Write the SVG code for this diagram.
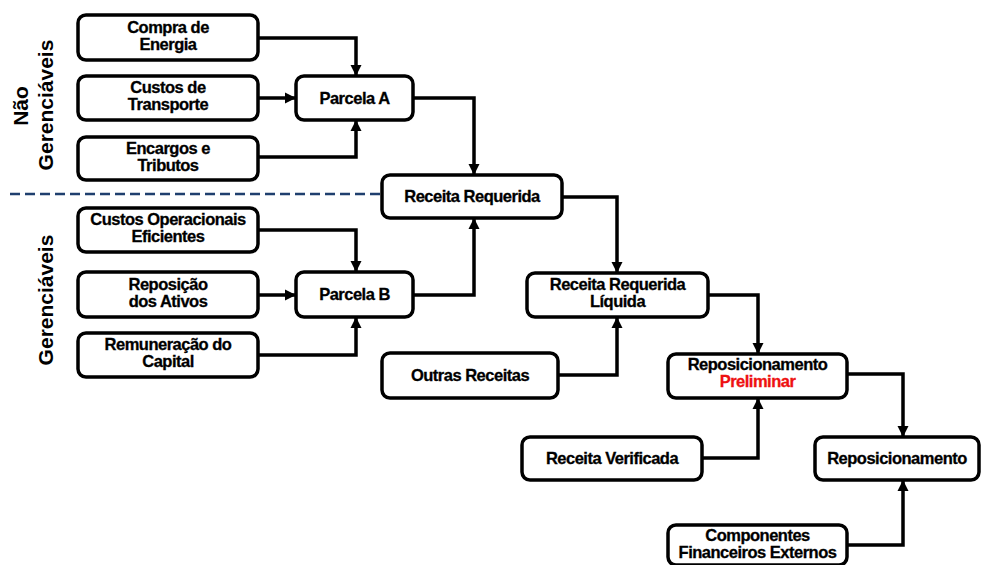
<svg xmlns="http://www.w3.org/2000/svg" width="982" height="565" viewBox="0 0 982 565">
<style>
.box{fill:#fff;stroke:#000;stroke-width:3.5}
.t{font-family:"Liberation Sans",Arial,sans-serif;font-weight:bold;font-size:16.5px;fill:#000;stroke:#000;stroke-width:0.3;text-anchor:middle;letter-spacing:-0.5px}
.side{font-family:"Liberation Sans",Arial,sans-serif;font-weight:bold;font-size:21px;fill:#000;text-anchor:middle}
.c{fill:none;stroke:#000;stroke-width:3.5}
.red{fill:#EE1111;stroke:#EE1111}
</style>
<defs>
<marker id="ah" viewBox="0 0 10 10" refX="10" refY="5" markerWidth="11" markerHeight="12" markerUnits="userSpaceOnUse" orient="auto">
<path d="M0,0 L10,5 L0,10 z" fill="#000"/>
</marker>
</defs>
<rect width="982" height="565" fill="#fff"/>
<g id="labels">
<text class="side" transform="translate(28,106) rotate(-90)">Não</text>
<text class="side" transform="translate(53,105) rotate(-90)">Gerenciáveis</text>
<text class="side" transform="translate(53,300) rotate(-90)">Gerenciáveis</text>
</g>
<line id="divider" x1="10" y1="194" x2="382" y2="194" stroke="#1F3F6E" stroke-width="2.5" stroke-dasharray="10,5"/>
<g id="connectors">
<path class="c" d="M258,38 H356 V76" marker-end="url(#ah)"/>
<path class="c" d="M258,98 H296" marker-end="url(#ah)"/>
<path class="c" d="M258,157 H356 V120" marker-end="url(#ah)"/>
<path class="c" d="M413,98 H474 V175" marker-end="url(#ah)"/>
<path class="c" d="M258,230 H356 V272" marker-end="url(#ah)"/>
<path class="c" d="M258,295 H296" marker-end="url(#ah)"/>
<path class="c" d="M258,355 H356 V317" marker-end="url(#ah)"/>
<path class="c" d="M413,295 H474 V218" marker-end="url(#ah)"/>
<path class="c" d="M562,197 H617 V273" marker-end="url(#ah)"/>
<path class="c" d="M558,375 H617 V317" marker-end="url(#ah)"/>
<path class="c" d="M708,295 H758 V354" marker-end="url(#ah)"/>
<path class="c" d="M702,458 H758 V398" marker-end="url(#ah)"/>
<path class="c" d="M847,374 H903 V437" marker-end="url(#ah)"/>
<path class="c" d="M847,545 H903 V480" marker-end="url(#ah)"/>
</g>
<g id="compra"><rect class="box" x="78" y="15" width="180" height="45" rx="8"/><text class="t" x="168" y="32.5">Compra de</text><text class="t" x="168" y="49.5">Energia</text></g>
<g id="transporte"><rect class="box" x="78" y="76" width="180" height="44" rx="8"/><text class="t" x="168" y="93">Custos de</text><text class="t" x="168" y="110">Transporte</text></g>
<g id="encargos"><rect class="box" x="78" y="137" width="180" height="43" rx="8"/><text class="t" x="168" y="153.5">Encargos e</text><text class="t" x="168" y="170.5">Tributos</text></g>
<g id="parcelaA"><rect class="box" x="296" y="76" width="117" height="44" rx="8"/><text class="t" x="354.5" y="103.5">Parcela A</text></g>
<g id="custosOp"><rect class="box" x="78" y="208" width="180" height="44" rx="8"/><text class="t" x="168" y="225">Custos Operacionais</text><text class="t" x="168" y="242">Eficientes</text></g>
<g id="reposicao"><rect class="box" x="78" y="272" width="180" height="45" rx="8"/><text class="t" x="168" y="289.5">Reposição</text><text class="t" x="168" y="306.5">dos Ativos</text></g>
<g id="remuneracao"><rect class="box" x="78" y="333" width="180" height="44" rx="8"/><text class="t" x="168" y="350">Remuneração do</text><text class="t" x="168" y="367">Capital</text></g>
<g id="parcelaB"><rect class="box" x="296" y="272" width="117" height="45" rx="8"/><text class="t" x="354.5" y="300">Parcela B</text></g>
<g id="receitaReq"><rect class="box" x="382" y="175" width="180" height="43" rx="8"/><text class="t" x="472" y="202">Receita Requerida</text></g>
<g id="receitaLiq"><rect class="box" x="527" y="273" width="181" height="44" rx="8"/><text class="t" x="617.5" y="290">Receita Requerida</text><text class="t" x="617.5" y="307">Líquida</text></g>
<g id="outras"><rect class="box" x="382" y="353" width="176" height="45" rx="8"/><text class="t" x="470" y="380.5">Outras Receitas</text></g>
<g id="repPrelim"><rect class="box" x="668" y="354" width="179" height="44" rx="8"/><text class="t" x="757.5" y="370">Reposicionamento</text><text class="t red" x="757.5" y="387">Preliminar</text></g>
<g id="recVerificada"><rect class="box" x="522" y="437" width="180" height="43" rx="8"/><text class="t" x="612" y="463.5">Receita Verificada</text></g>
<g id="reposicionamento"><rect class="box" x="815" y="437" width="164" height="43" rx="8"/><text class="t" x="897" y="463.5">Reposicionamento</text></g>
<g id="componentes"><rect class="box" x="668" y="525" width="179" height="40" rx="8"/><text class="t" x="757.5" y="541">Componentes</text><text class="t" x="757.5" y="558">Financeiros Externos</text></g>
</svg>
